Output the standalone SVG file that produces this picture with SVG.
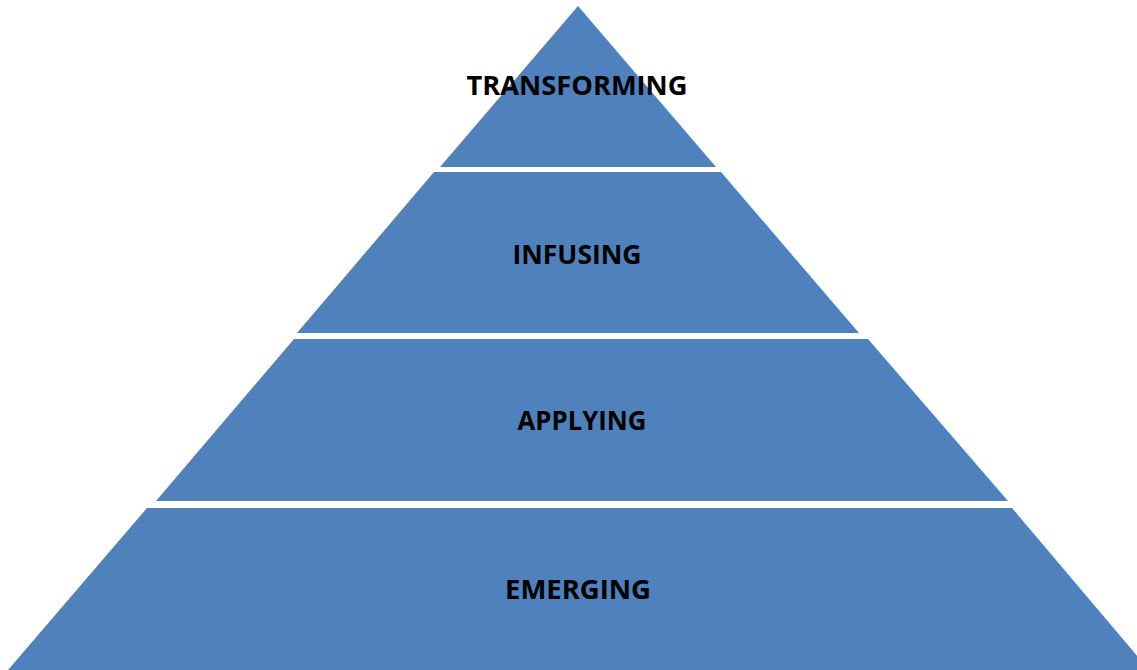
<svg xmlns="http://www.w3.org/2000/svg" width="1137" height="670" viewBox="0 0 1137 670">
  <style>
    .tier { fill: #4F81BD; }
    .label { font-family: "Open Sans", "Liberation Sans", sans-serif; font-weight: 700; font-size: 27.5px; fill: #000; text-anchor: middle; }
  </style>
  <rect width="1137" height="670" fill="#fff"/>
  <g id="emerging">
    <polygon class="tier" points="147,508 1012,508 1149,670 8,670"/>
    <text class="label" x="578" y="599" textLength="146" lengthAdjust="spacingAndGlyphs">EMERGING</text>
  </g>
  <g id="applying">
    <polygon class="tier" points="294,339 868,339 1008,501 156,501"/>
    <text class="label" x="582" y="430" textLength="129" lengthAdjust="spacingAndGlyphs">APPLYING</text>
  </g>
  <g id="infusing">
    <polygon class="tier" points="434,172 721,172 859,333 297,333"/>
    <text class="label" x="577" y="264" textLength="129" lengthAdjust="spacingAndGlyphs">INFUSING</text>
  </g>
  <g id="transforming">
    <polygon class="tier" points="578,6 716,167 440,167"/>
    <text class="label" x="577" y="95" textLength="221" lengthAdjust="spacingAndGlyphs">TRANSFORMING</text>
  </g>
  <g id="connectors"/>
</svg>
